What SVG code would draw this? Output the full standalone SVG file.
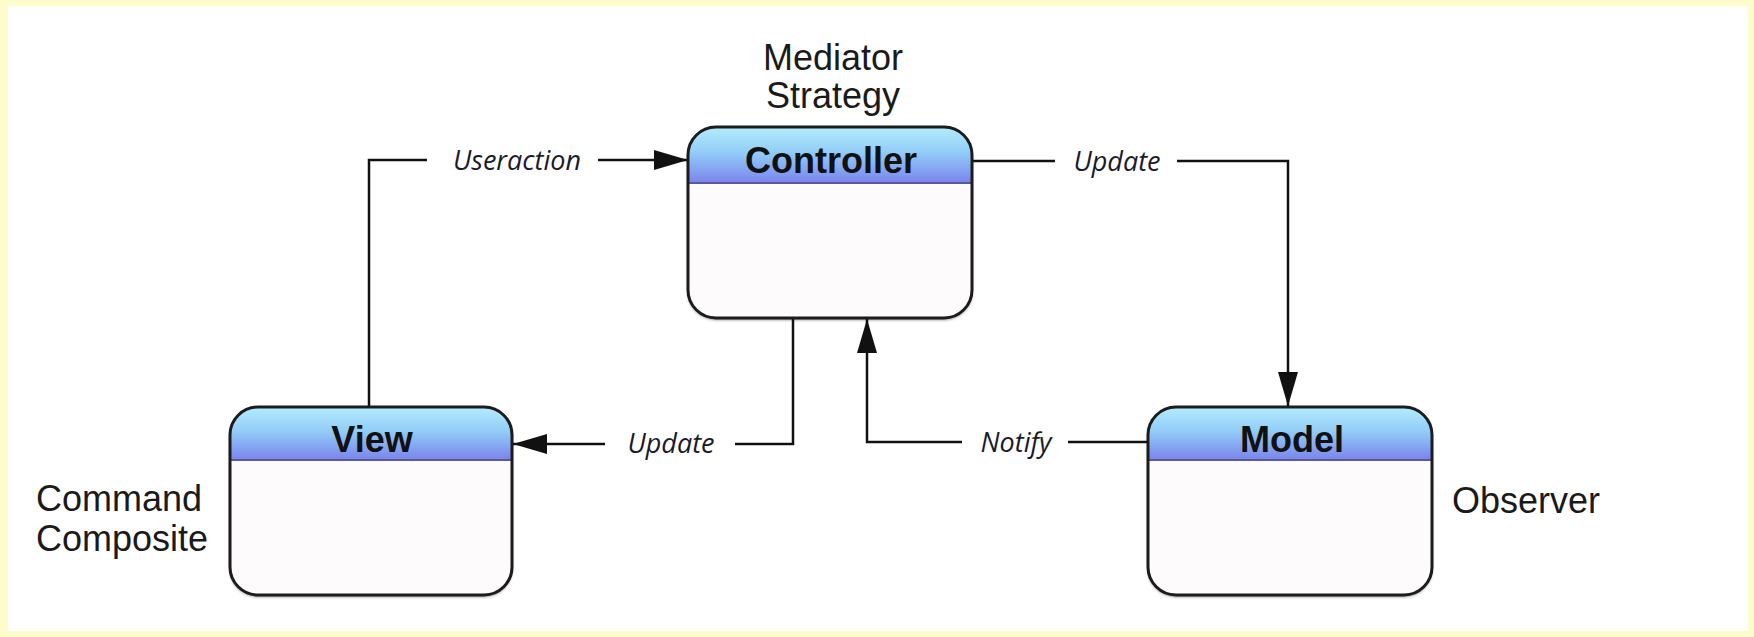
<svg xmlns="http://www.w3.org/2000/svg" width="1754" height="637" viewBox="0 0 1754 637">
  <defs>
    <linearGradient id="hdr" x1="0" y1="0" x2="0" y2="1">
      <stop offset="0" stop-color="#b3ecfd"/>
      <stop offset="0.45" stop-color="#92cdf7"/>
      <stop offset="1" stop-color="#7a84ec"/>
    </linearGradient>
    <filter id="sh" x="-10%" y="-10%" width="120%" height="125%">
      <feDropShadow dx="0" dy="2" stdDeviation="1.5" flood-color="#000" flood-opacity="0.45"/>
    </filter>
    <marker id="arr" viewBox="0 0 34 20" refX="34" refY="10" markerWidth="34" markerHeight="20" markerUnits="userSpaceOnUse" orient="auto">
      <path d="M0,0 L34,10 L0,20 Z" fill="#111"/>
    </marker>
    <clipPath id="cC"><rect x="688" y="127" width="284" height="191" rx="28"/></clipPath>
    <clipPath id="cV"><rect x="230" y="407" width="282" height="188" rx="28"/></clipPath>
    <clipPath id="cM"><rect x="1148" y="407" width="284" height="188" rx="28"/></clipPath>
  </defs>
  <style>
    .body { fill: #fdfbfc; }
    .frame { fill: none; stroke: #1c1c1c; stroke-width: 3; }
    .div { stroke: #5a5a9a; stroke-width: 2; }
    .title { font-family: "Liberation Sans", Arial, sans-serif; font-weight: bold; font-size: 36px; fill: #111; text-anchor: middle; }
    .note { font-family: "Liberation Sans", Arial, sans-serif; font-size: 36px; fill: #1a1a1a; }
    .lbl { font-family: "Open Sans", "DejaVu Sans", sans-serif; font-style: italic; font-size: 27px; fill: #1a1a2a; text-anchor: middle; }
    .conn { fill: none; stroke: #111; stroke-width: 2.5; }
  </style>

  <rect x="0" y="0" width="1754" height="637" fill="#fffccc"/>
  <rect x="8" y="6" width="1740" height="625" fill="#ffffff"/>

  <g id="connectors">
    <polyline class="conn" points="369,407 369,160 427,160"/>
    <line class="conn" x1="598" y1="160" x2="688" y2="160" marker-end="url(#arr)"/>
    <text class="lbl" x="517" y="170">Useraction</text>

    <line class="conn" x1="972" y1="161" x2="1055" y2="161"/>
    <polyline class="conn" points="1177,161 1288,161 1288,406" marker-end="url(#arr)"/>
    <text class="lbl" x="1117" y="171">Update</text>

    <polyline class="conn" points="793,318 793,444 735,444"/>
    <line class="conn" x1="605" y1="444" x2="513" y2="444" marker-end="url(#arr)"/>
    <text class="lbl" x="671" y="453">Update</text>

    <line class="conn" x1="1148" y1="442" x2="1068" y2="442"/>
    <polyline class="conn" points="962,442 867,442 867,319" marker-end="url(#arr)"/>
    <text class="lbl" x="1016" y="452">Notify</text>
  </g>

  <g id="controller">
    <rect class="body" x="688" y="127" width="284" height="191" rx="28" filter="url(#sh)"/>
    <rect x="688" y="127" width="284" height="56" fill="url(#hdr)" clip-path="url(#cC)"/>
    <line class="div" x1="688" y1="183" x2="972" y2="183"/>
    <rect class="frame" x="688" y="127" width="284" height="191" rx="28"/>
    <text class="title" x="831" y="173">Controller</text>
    <text class="note" x="833" y="70" text-anchor="middle">Mediator</text>
    <text class="note" x="833" y="108" text-anchor="middle">Strategy</text>
  </g>

  <g id="view">
    <rect class="body" x="230" y="407" width="282" height="188" rx="28" filter="url(#sh)"/>
    <rect x="230" y="407" width="282" height="53" fill="url(#hdr)" clip-path="url(#cV)"/>
    <line class="div" x1="230" y1="460" x2="512" y2="460"/>
    <rect class="frame" x="230" y="407" width="282" height="188" rx="28"/>
    <text class="title" x="372" y="452">View</text>
    <text class="note" x="36" y="511">Command</text>
    <text class="note" x="36" y="551">Composite</text>
  </g>

  <g id="model">
    <rect class="body" x="1148" y="407" width="284" height="188" rx="28" filter="url(#sh)"/>
    <rect x="1148" y="407" width="284" height="53" fill="url(#hdr)" clip-path="url(#cM)"/>
    <line class="div" x1="1148" y1="460" x2="1432" y2="460"/>
    <rect class="frame" x="1148" y="407" width="284" height="188" rx="28"/>
    <text class="title" x="1292" y="452">Model</text>
    <text class="note" x="1452" y="513">Observer</text>
  </g>
</svg>
